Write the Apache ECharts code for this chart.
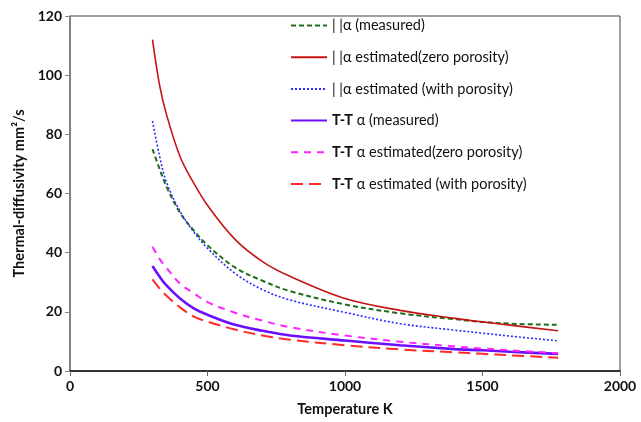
<!DOCTYPE html>
<html>
<head>
<meta charset="utf-8">
<script src="https://cdn.jsdelivr.net/npm/echarts@6/dist/echarts.min.js"></script>
</head>
<body style="margin:0">
<div id="main" style="width:641px;height:422px"></div>
<script>
// temperature (K) samples
var temps = [300, 325, 350, 400, 450, 500, 600, 700, 800, 1000, 1200, 1400, 1500, 1600, 1775];

var parMeasured = [75, 68.5, 62.5, 53.5, 47.5, 42.5, 35, 30.5, 27, 22.5, 19.5, 17.5, 16.6, 16, 15.6];
var parZero     = [112, 97, 87, 72.5, 63.5, 56, 44.5, 37, 32, 24.5, 20.5, 17.8, 16.6, 15.5, 13.6];
var parPorous   = [84.5, 73, 64, 54, 47, 41.5, 33, 27.5, 24, 19.8, 16, 13.8, 12.8, 11.8, 10.2];
var ttMeasured  = [35.5, 32, 29, 24.5, 21.2, 19, 15.6, 13.6, 12, 10.3, 8.7, 7.4, 7, 6.5, 5.8];
var ttZero      = [42, 38, 35, 29.5, 26.3, 23.3, 19.7, 17, 14.8, 12, 9.9, 8.3, 7.6, 7, 6];
var ttPorous    = [31, 28, 25.5, 21.5, 18.4, 16.7, 14, 12, 10.6, 8.7, 7.3, 6.3, 5.8, 5.3, 4.5];

var names = [
  '| |α (measured)',
  '| |α estimated(zero porosity)',
  '| |α estimated (with porosity)',
  'T-T α (measured)',
  'T-T α estimated(zero porosity)',
  'T-T α estimated (with porosity)'
];

function pairs(vals) {
  return temps.map(function (t, i) { return [t, vals[i]]; });
}

function line(name, vals, color, width, dash) {
  return {
    name: name,
    type: 'line',
    smooth: 0.35,
    symbol: 'none',
    data: pairs(vals),
    lineStyle: { color: color, width: width, type: dash },
    itemStyle: { color: color }
  };
}

var chart = echarts.init(document.getElementById('main'));
chart.setOption({
  animation: false,
  textStyle: { fontFamily: 'Lato' },
  grid: { left: 70, right: 21, top: 16, bottom: 51, show: true, borderColor: '#444', borderWidth: 1 },
  legend: {
    orient: 'vertical',
    left: 285,
    top: 13,
    itemWidth: 36,
    itemHeight: 12,
    itemGap: 16.7,
    itemStyle: { opacity: 0 },
    textStyle: {
      fontSize: 14.5,
      color: '#111',
      rich: { b: { fontWeight: 'bold', fontSize: 14.5, color: '#111' } }
    },
    formatter: function (n) {
      if (n.indexOf('T-T') === 0) return '{b|T-T} ' + n.slice(4);
      return n;
    },
    data: names
  },
  xAxis: {
    type: 'value',
    min: 0, max: 2000, interval: 500,
    name: 'Temperature K',
    nameLocation: 'middle',
    nameGap: 31,
    nameTextStyle: { fontWeight: 'bold', fontSize: 14.5, color: '#111' },
    axisLine: { lineStyle: { color: '#111', width: 1.5 } },
    axisTick: { show: true, length: 5, lineStyle: { color: '#666' } },
    axisLabel: { fontWeight: 'bold', fontSize: 14, color: '#111', margin: 8, formatter: function (v) { return String(v); } },
    splitLine: { show: false }
  },
  yAxis: {
    type: 'value',
    min: 0, max: 120, interval: 20,
    name: 'Thermal-diffusivity mm²/s',
    nameLocation: 'middle',
    nameGap: 41,
    nameTextStyle: { fontWeight: 'bold', fontSize: 14.5, color: '#111' },
    axisLine: { show: true, lineStyle: { color: '#777', width: 1.5 } },
    axisTick: { show: true, length: 5, lineStyle: { color: '#888' } },
    axisLabel: { fontWeight: 'bold', fontSize: 14, color: '#111', margin: 8 },
    splitLine: { show: false }
  },
  series: [
    line(names[0], parMeasured, '#1f6e1f', 2, [5, 3]),
    line(names[1], parZero, '#c41414', 1.6, 'solid'),
    line(names[2], parPorous, '#2a2aff', 1.6, [2, 2]),
    line(names[3], ttMeasured, '#6a10ff', 2.6, 'solid'),
    line(names[4], ttZero, '#ff22ff', 2, [7, 6]),
    line(names[5], ttPorous, '#ff2a2a', 2, [12, 6])
  ]
});
</script>
</body>
</html>
